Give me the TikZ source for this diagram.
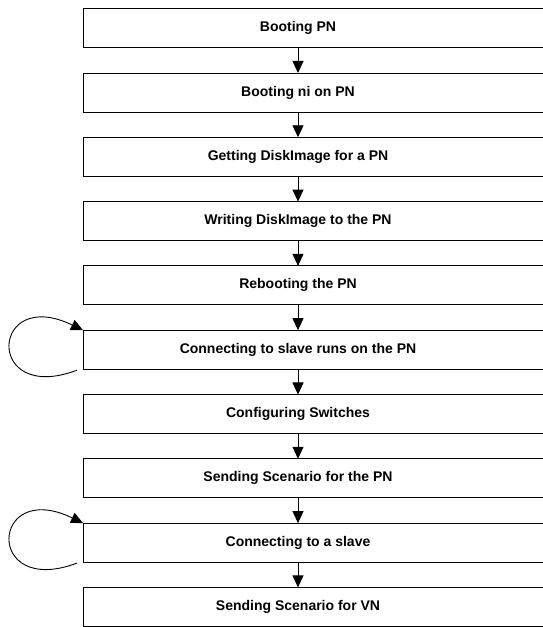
\documentclass[tikz,border=0pt]{standalone}
\usepackage{fontspec}
\setmainfont{Liberation Sans}
\usetikzlibrary{arrows.meta,positioning}

\begin{document}
\begin{tikzpicture}[->,>={Triangle[length=12pt,width=11pt]},x=1pt,y=1pt,
                    node distance=25.3pt,line width=0.9pt]
  \tikzstyle{stepbox}=[minimum width=430pt,minimum height=39pt,inner sep=0pt,
                       outer sep=0pt,font=\bfseries\fontsize{14}{16}\selectfont]
  \useasboundingbox (0,0) rectangle (543,627);

  \node[stepbox] (boot)      at (298,598.8)      {Booting PN};
  \node[stepbox] (bootni)    [below=of boot]     {Booting ni on PN};
  \node[stepbox] (getimg)    [below=of bootni]   {Getting DiskImage for a PN};
  \node[stepbox] (writeimg)  [below=of getimg]   {Writing DiskImage to the PN};
  \node[stepbox] (reboot)    [below=of writeimg] {Rebooting the PN};
  \node[stepbox] (connslave) [below=of reboot]   {Connecting to slave runs on the PN};
  \node[stepbox] (config)    [below=of connslave]{Configuring Switches};
  \node[stepbox] (sendpn)    [below=of config]   {Sending Scenario for the PN};
  \node[stepbox] (conna)     [below=of sendpn]   {Connecting to a slave};
  \node[stepbox] (sendvn)    [below=of conna]    {Sending Scenario for VN};

  % frames run on past the right edge
  \foreach \n in {boot,bootni,getimg,writeimg,reboot,connslave,config,sendpn,conna,sendvn}
    \draw[-] (\n.south west) rectangle ([xshift=60pt]\n.north east);

  \path (boot) edge (bootni)
        (bootni) edge (getimg)
        (getimg) edge (writeimg)
        (writeimg) edge (reboot)
        (reboot) edge (connslave)
        (connslave) edge (config)
        (config) edge (sendpn)
        (sendpn) edge (conna)
        (conna) edge (sendvn);

  % retry loops
  \draw ([xshift=-6pt,yshift=-1pt]connslave.south west)
        .. controls +(-93,-35) and +(-93,45) .. (connslave.north west);
  \draw ([xshift=-6pt,yshift=-1pt]conna.south west)
        .. controls +(-93,-35) and +(-93,45) .. (conna.north west);
\end{tikzpicture}
\end{document}
